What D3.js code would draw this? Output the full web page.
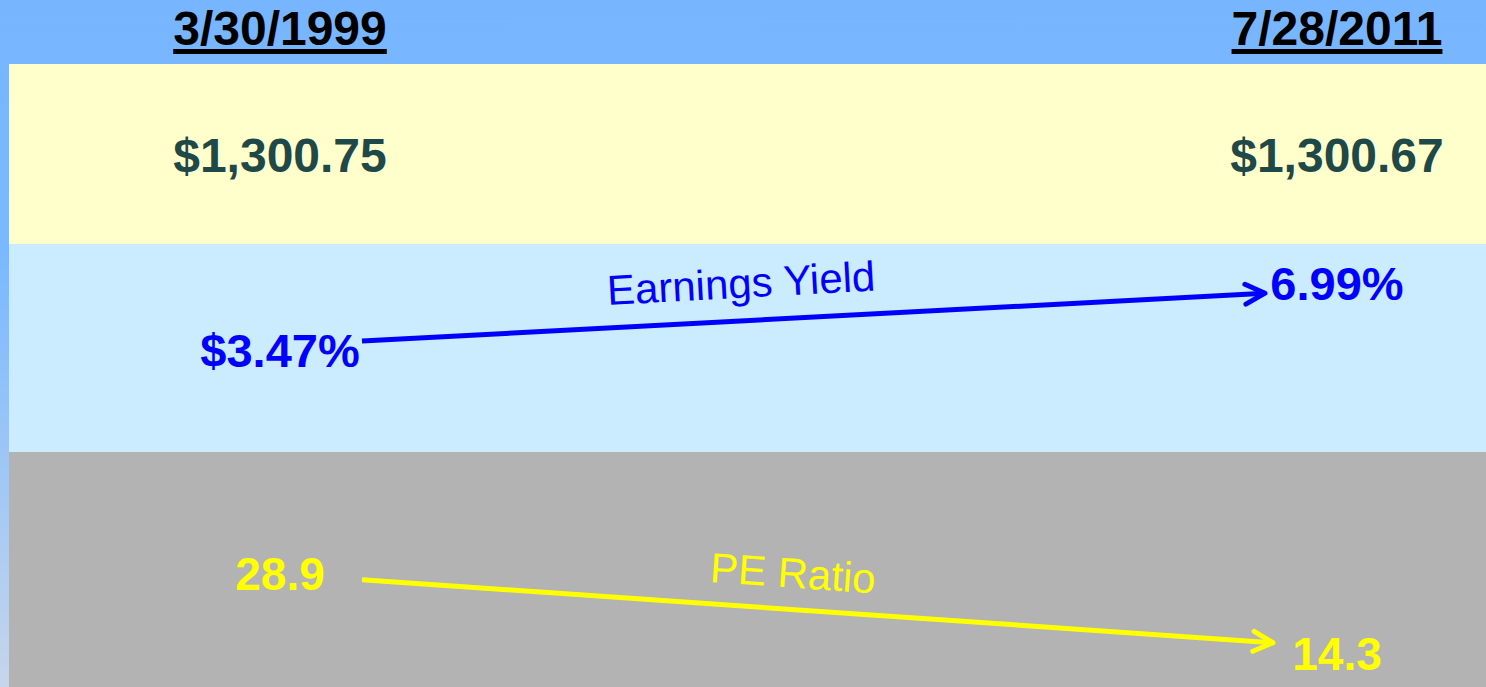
<!DOCTYPE html>
<html>
<head>
<meta charset="utf-8">
<script src="https://cdn.jsdelivr.net/npm/d3@7"></script>
<style>
  html, body { margin: 0; padding: 0; overflow: hidden; }
  svg { display: block; font-family: "Liberation Sans", Arial, sans-serif; }
</style>
</head>
<body>
<script>
// data
var dates = ['3/30/1999', '7/28/2011'];
var prices = [1300.75, 1300.67];
var yields = [3.47, 6.99];
var yieldLabels = ['$3.47%', '6.99%'];
var peRatios = [28.9, 14.3];
var rowNames = ['Earnings Yield', 'PE Ratio'];

var w = 1486;
var h = 687;

var svg = d3.select('body').append('svg')
            .attr('width', w)
            .attr('height', h);

var defs = svg.append('defs');
var grad = defs.append('linearGradient')
               .attr('id', 'bgGrad')
               .attr('x1', 0).attr('y1', 0).attr('x2', 0).attr('y2', 1);
grad.append('stop').attr('offset', '0%').attr('stop-color', '#77b6ff');
grad.append('stop').attr('offset', '38%').attr('stop-color', '#7bb9ff');
grad.append('stop').attr('offset', '100%').attr('stop-color', '#c6d5eb');

svg.append('rect')
   .attr('width', w).attr('height', h)
   .attr('fill', 'url(#bgGrad)');

// bands
var bands = [
  {y0: 64, y1: 244, color: '#ffffcc'},
  {y0: 244, y1: 452, color: '#cbebff'},
  {y0: 452, y1: 687, color: '#b3b3b3'}
];
svg.selectAll('.band')
   .data(bands)
   .enter()
   .append('rect')
   .classed('band', true)
   .attr('x', 9)
   .attr('y', function(d){ return d.y0 })
   .attr('width', w - 9)
   .attr('height', function(d){ return d.y1 - d.y0 })
   .attr('fill', function(d){ return d.color });

// columns
var x = d3.scalePoint()
          .domain(dates)
          .range([280, 1337]);

// headers
var headers = svg.selectAll('.header')
   .data(dates)
   .enter()
   .append('text')
   .classed('header', true)
   .attr('x', function(d){ return x(d) })
   .attr('y', 45)
   .attr('text-anchor', 'middle')
   .style('font-size', '48px')
   .style('font-weight', 'bold')
   .attr('fill', '#000')
   .text(function(d){ return d });

headers.each(function(d){
  var len = this.getComputedTextLength();
  svg.append('rect')
     .attr('x', x(d) - len / 2)
     .attr('y', 49)
     .attr('width', len)
     .attr('height', 5)
     .attr('fill', '#000');
});

// prices
var fmtPrice = d3.format('$,.2f');
svg.selectAll('.price')
   .data(prices)
   .enter()
   .append('text')
   .classed('price', true)
   .attr('x', function(d, i){ return x(dates[i]) })
   .attr('y', 172)
   .attr('text-anchor', 'middle')
   .style('font-size', '48px')
   .style('font-weight', 'bold')
   .attr('fill', '#1f4848')
   .text(function(d){ return fmtPrice(d) });

// value scales for each row (baseline position)
var yYield = d3.scaleLinear().domain([0, 10]).range([433, 243]);
var yPE = d3.scaleLinear().domain([0, 40]).range([748, 529]);

function arrow(g, x0, y0, x1, y1, color) {
  var ang = Math.atan2(y1 - y0, x1 - x0);
  var len = 22, spread = 0.47;
  var a1 = [x1 - len * Math.cos(ang - spread), y1 - len * Math.sin(ang - spread)];
  var a2 = [x1 - len * Math.cos(ang + spread), y1 - len * Math.sin(ang + spread)];
  g.append('line')
   .attr('x1', x0).attr('y1', y0)
   .attr('x2', x1).attr('y2', y1)
   .attr('stroke', color)
   .attr('stroke-width', 5)
   .attr('stroke-linecap', 'butt');
  g.append('path')
   .attr('d', 'M' + a1 + 'L' + [x1, y1] + 'L' + a2)
   .attr('fill', 'none')
   .attr('stroke', color)
   .attr('stroke-width', 5)
   .attr('stroke-linecap', 'round')
   .attr('stroke-linejoin', 'round');
}

// earnings yield row
var yieldG = svg.append('g');
yieldG.selectAll('.yieldVal')
      .data(yields)
      .enter()
      .append('text')
      .classed('yieldVal', true)
      .attr('x', function(d, i){ return x(dates[i]) })
      .attr('y', function(d){ return yYield(d) })
      .attr('text-anchor', 'middle')
      .style('font-size', '47px')
      .style('font-weight', 'bold')
      .attr('fill', '#0000ff')
      .text(function(d, i){ return yieldLabels[i] });

arrow(yieldG,
      x(dates[0]) + 82, yYield(yields[0]) - 26,
      x(dates[1]) - 72, yYield(yields[1]) - 7,
      '#0000ff');

yieldG.append('text')
      .attr('transform', 'translate(741,283) rotate(-3.1)')
      .attr('text-anchor', 'middle')
      .attr('dy', '0.35em')
      .style('font-size', '42px')
      .attr('fill', '#0000ff')
      .text(rowNames[0]);

// PE row
var peG = svg.append('g');
peG.selectAll('.peVal')
   .data(peRatios)
   .enter()
   .append('text')
   .classed('peVal', true)
   .attr('x', function(d, i){ return x(dates[i]) })
   .attr('y', function(d){ return yPE(d) })
   .attr('text-anchor', 'middle')
   .style('font-size', '46px')
   .style('font-weight', 'bold')
   .attr('fill', '#ffff00')
   .text(function(d){ return d3.format('.1f')(d) });

arrow(peG,
      x(dates[0]) + 82, yPE(peRatios[0]) - 10,
      x(dates[1]) - 64, yPE(peRatios[1]) - 27,
      '#ffff00');

peG.append('text')
   .attr('transform', 'translate(793,573) rotate(4)')
   .attr('text-anchor', 'middle')
   .attr('dy', '0.35em')
   .style('font-size', '42px')
   .attr('fill', '#ffff00')
   .text(rowNames[1]);
</script>
</body>
</html>
